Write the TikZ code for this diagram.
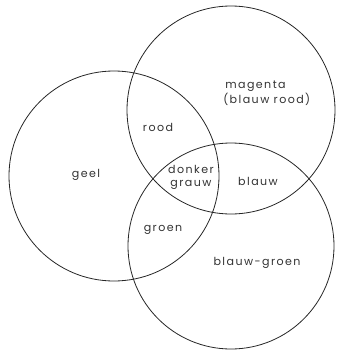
\documentclass[tikz,border=0pt]{standalone}
\usepackage{fontspec}
\setmainfont[LetterSpace=13]{Poppins}
\begin{document}
\begin{tikzpicture}[x=0.75pt,y=-0.75pt,
  ring/.style={draw=black!85, line width=0.6pt},
  lbl/.style={font=\fontsize{8.3}{9.8}\selectfont, text=black!80, inner sep=0pt}]
\useasboundingbox (0,0) rectangle (341,351);
\draw[ring] (231,110) circle[radius=104];
\draw[ring] (114,176) circle[radius=105];
\draw[ring] (231,246) circle[radius=103];
\node[lbl, align=left, anchor=west] (magenta) at (223,93) {\hspace*{1.5pt}magenta\\(blauw rood)};
\node[lbl] (rood) at (158,127) {rood};
\node[lbl] (geel) at (86,175) {geel};
\node[lbl, align=center] (donker) at (191,177) {donker\\grauw};
\node[lbl] (blauw) at (258,181) {blauw};
\node[lbl] (groen) at (163,230) {groen};
\node[lbl] (bg) at (257,263) {blauw-groen};
\end{tikzpicture}
\end{document}
